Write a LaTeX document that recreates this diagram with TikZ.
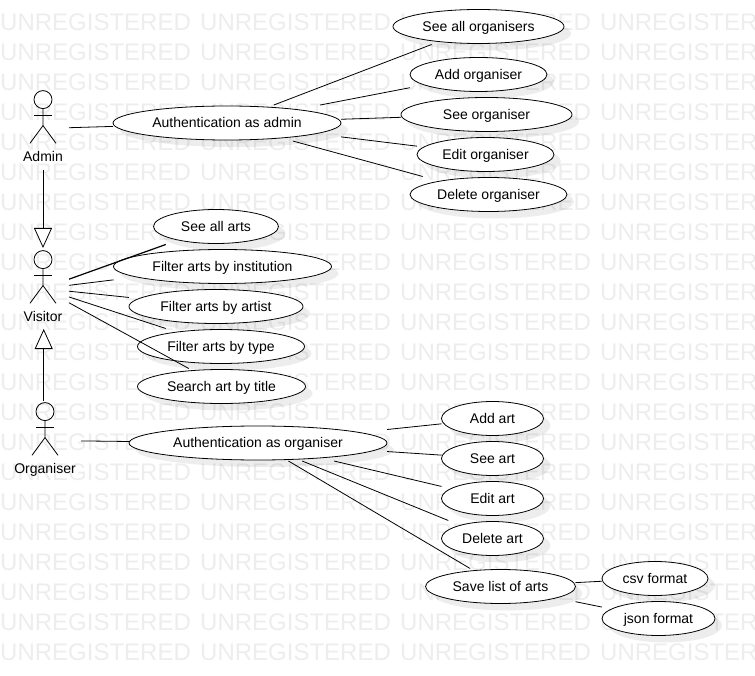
\documentclass[tikz,border=0pt]{standalone}
\usepackage{fontspec}
\setmainfont{Liberation Sans}
\usetikzlibrary{arrows.meta,shapes.geometric,shadows}

\tikzset{
  watermark/.style={anchor=west,inner sep=0pt,font=\fontsize{24}{24}\selectfont,text=black!7},
  oval/.style={ellipse,draw,fill=white,inner sep=0pt,line width=0.8pt,
    drop shadow={shadow xshift=7pt,shadow yshift=-7pt,fill=black,opacity=0.07}},
  usecase/.style={rectangle,inner sep=0pt,outer xsep=0pt,outer ysep=1pt,font=\fontsize{14}{14}\selectfont,
    text height=9.4pt,text depth=0pt,minimum height=34pt},
  actorbox/.style={rectangle,anchor=north,inner sep=0pt,outer sep=0pt,minimum height=75pt},
  actorlabel/.style={inner sep=0pt,font=\fontsize{14}{14}\selectfont,text height=9.4pt,text depth=0pt},
  assoc/.style={line width=0.8pt},
  general/.style={line width=0.8pt,-{Triangle[open,fill=white,length=20pt,width=18pt]}}
}

\begin{document}
\begin{tikzpicture}[x=1pt,y=-1pt]
  \useasboundingbox (0,0) rectangle (755,676);

  % background text
  \foreach \col in {0,1,2,3}
    \foreach \row in {0,...,21}
      \node[watermark] (mark-\col-\row) at (200*\col,22+30*\row) {UNREGISTERED};

  % use cases
  \foreach \name/\x/\y/\w/\txt in {
    allorg/478.5/26.5/171/See all organisers,
    addorg/478.5/74.5/137/Add organiser,
    seeorg/486.5/114.5/171/See organiser,
    editorg/485.5/154.5/137/Edit organiser,
    delorg/488.5/194.5/157/Delete organiser,
    authadmin/227/123/228/Authentication as admin,
    allarts/216/226.5/125/See all arts,
    byinst/222.5/266.5/218/Filter arts by institution,
    byartist/216/306.5/174/Filter arts by artist,
    bytype/221/346.5/167/Filter arts by type,
    bytitle/221.5/386.5/168/Search art by title,
    authorg/258/443/258/Authentication as organiser,
    addart/492.5/418.5/102/Add art,
    seeart/492.5/458.5/102/See art,
    editart/492.5/498.5/102/Edit art,
    delart/492.5/538.5/102/Delete art,
    savelist/500.5/586.5/150/Save list of arts,
    csv/655/578.5/106/csv format,
    json/658.5/618.5/113/json format}
  {
    \node[oval,minimum width=\w,minimum height=34] (\name-oval) at (\x,\y) {};
    \node[usecase,minimum width=\w] (\name) at (\x,\y) {\txt};
  }

  % actors
  \foreach \name/\x/\y/\w/\txt in {
    admin/43/91/52/Admin,
    visitor/43/251/52/Visitor,
    organiser/45/403/72/Organiser}
  {
    \node[actorbox,minimum width=\w] (\name) at (\x,\y) {};
    \begin{scope}[shift={(\x,\y)},line width=0.8pt]
      \draw (0,8.6) circle (9);
      \draw (-9,24) -- (9,24);
      \draw (0,17.6) -- (0,34.6) -- (-13,52.3);
      \draw (0,34.6) -- (13,52.3);
      \node[actorlabel] (\name-label) at (0,66) {\txt};
    \end{scope}
  }

  % associations
  \foreach \from/\to in {
    admin/authadmin,
    authadmin/allorg,authadmin/addorg,authadmin/seeorg,authadmin/editorg,authadmin/delorg,
    visitor/byinst,visitor/byartist,visitor/bytype,visitor/bytitle,
    organiser/authorg,
    authorg/addart,authorg/seeart,authorg/editart,authorg/delart,authorg/savelist,
    savelist/csv,savelist/json}
    \draw[assoc] (\from) -- (\to);
  \draw[assoc,line width=1.2pt] (visitor) -- (allarts);

  \draw[general,shorten <=4pt,shorten >=3pt] (admin) -- (visitor);
  \draw[general,shorten <=2pt,shorten >=3pt] ([xshift=-1.3pt]organiser.north) -- ([xshift=0.7pt]visitor.south);
\end{tikzpicture}
\end{document}
